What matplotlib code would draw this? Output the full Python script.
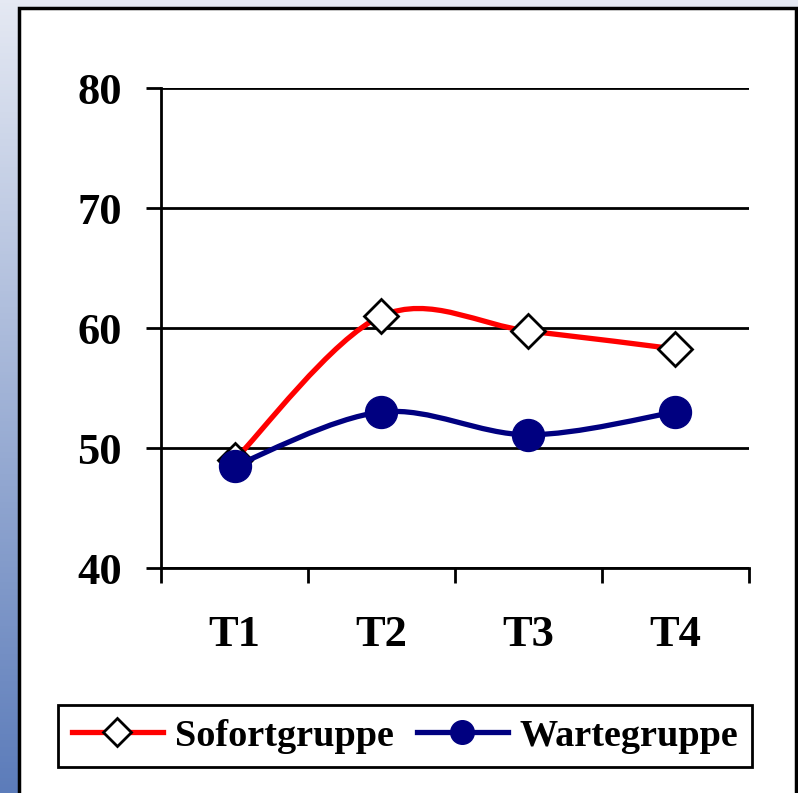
import numpy as np
import matplotlib
matplotlib.use("Agg")
import matplotlib.pyplot as plt
from matplotlib.path import Path
from matplotlib.patches import PathPatch, Rectangle
from matplotlib.lines import Line2D

plt.rcParams['font.family'] = ['Liberation Serif', 'DejaVu Serif']
plt.rcParams['font.weight'] = 'bold'

# data
zeitpunkte = ["T1", "T2", "T3", "T4"]
sofortgruppe = [49.0, 61.0, 59.75, 58.25]
wartegruppe = [48.5, 53.0, 51.1, 53.0]

RED = '#ff0000'
NAVY = '#000080'


def smooth_path(xs, ys):
    # Excel style smoothed line: Catmull-Rom segments as cubic Bezier curves
    pts = np.column_stack([xs, ys]).astype(float)
    verts = [pts[0]]
    codes = [Path.MOVETO]
    n = len(pts)
    for i in range(n - 1):
        p0 = pts[max(i - 1, 0)]
        p1 = pts[i]
        p2 = pts[i + 1]
        p3 = pts[min(i + 2, n - 1)]
        c1 = p1 + (p2 - p0) / 6.0
        c2 = p2 - (p3 - p1) / 6.0
        verts += [c1, c2, p2]
        codes += [Path.CURVE4] * 3
    return Path(verts, codes)


fig = plt.figure(figsize=(7.98, 7.93), dpi=100)

# background gradient behind the white panel
bg = fig.add_axes([0, 0, 1, 1], zorder=-10)
grad = np.linspace(0, 1, 256).reshape(-1, 1)
top = np.array([229, 233, 243]) / 255
bot = np.array([92, 124, 186]) / 255
img = top[None, None, :] * (1 - grad[:, :, None]) + bot[None, None, :] * grad[:, :, None]
bg.imshow(img, aspect='auto', extent=[0, 1, 0, 1])
bg.set_xlim(0, 1)
bg.set_ylim(0, 1)
bg.axis('off')
bg.add_patch(Rectangle((19 / 798, -0.02), 777 / 798, 1.02 - 7.5 / 793,
                       facecolor='white', edgecolor='black', linewidth=2.5,
                       transform=bg.transAxes))

ax = fig.add_axes([161 / 798, 1 - 568 / 793, 588 / 798, 480 / 793])
ax.set_facecolor('none')
x = np.arange(1, len(zeitpunkte) + 1)

ax.add_patch(PathPatch(smooth_path(x, sofortgruppe), facecolor='none',
                       edgecolor=RED, linewidth=3.8, capstyle='round', zorder=3))
ax.plot(x, sofortgruppe, ls='none', marker='D', markersize=17,
        markerfacecolor='white', markeredgecolor='black', markeredgewidth=2, zorder=4)
ax.add_patch(PathPatch(smooth_path(x, wartegruppe), facecolor='none',
                       edgecolor=NAVY, linewidth=3.8, capstyle='round', zorder=5))
ax.plot(x, wartegruppe, ls='none', marker='o', markersize=23,
        markerfacecolor=NAVY, markeredgecolor=NAVY, zorder=6)

ax.set_xlim(0.5, len(zeitpunkte) + 0.5)
ax.set_ylim(40, 80)
ax.set_yticks([40, 50, 60, 70, 80])
ax.set_xticks(x)
ax.set_xticklabels(zeitpunkte)
ax.set_xticks(np.arange(0.5, len(zeitpunkte) + 1), minor=True)
ax.tick_params(axis='x', which='major', length=0, labelsize=32, pad=34)
ax.tick_params(axis='x', which='minor', length=11, width=2, direction='out')
ax.tick_params(axis='y', length=11, width=2, direction='out', labelsize=32, pad=17)
for lab in ax.get_xticklabels() + ax.get_yticklabels():
    lab.set_fontweight('bold')

ax.grid(axis='y', color='black', linewidth=2)
for s in ['top', 'right']:
    ax.spines[s].set_visible(False)
for s in ['left', 'bottom']:
    ax.spines[s].set_linewidth(2)

handles = [
    Line2D([], [], color=RED, lw=3.8, marker='D', markersize=14,
           markerfacecolor='white', markeredgecolor='black', markeredgewidth=2),
    Line2D([], [], color=NAVY, lw=3.8, marker='o', markersize=17,
           markerfacecolor=NAVY, markeredgecolor=NAVY),
]
leg = fig.legend(handles, ["Sofortgruppe", "Wartegruppe"], ncol=2,
                 loc='center', bbox_to_anchor=(405 / 798, 1 - 736 / 793),
                 prop={'family': 'Liberation Serif', 'weight': 'bold', 'size': 27.5},
                 handlelength=2.4, handletextpad=0.3, columnspacing=0.6,
                 fancybox=False, framealpha=1, borderpad=0.35, borderaxespad=0)
leg.get_frame().set_edgecolor('black')
leg.get_frame().set_linewidth(2)

fig.savefig('out.png', dpi=100)
